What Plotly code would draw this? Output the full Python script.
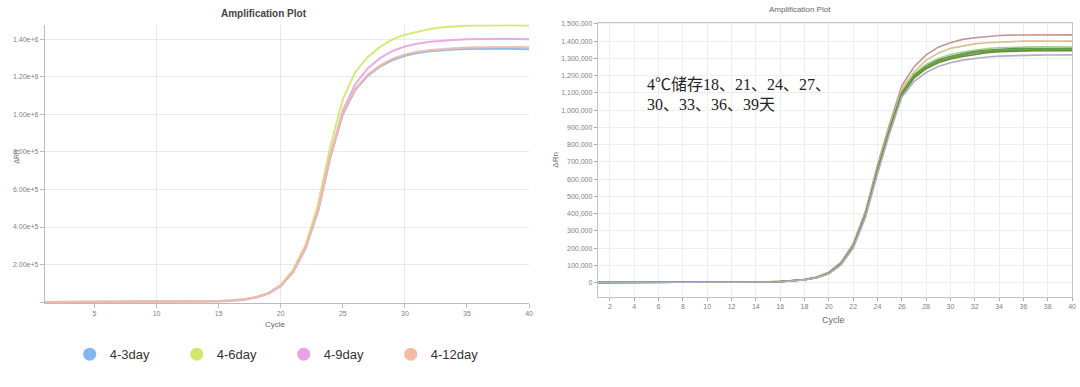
import plotly.graph_objects as go

# ---------------- data ----------------
cycles = list(range(1, 41))

# left panel (ΔRn, 4 storage conditions)
left_names = ["4-3day", "4-6day", "4-9day", "4-12day"]
d4_3 = [0, 0, 0, 0, 0, 0, 0, 0, 0, 0, 500, 1000, 1500, 2500, 4000, 7000, 13000, 24000, 45000, 85000,
        160000, 285000, 480000, 770000, 1000000, 1130000, 1205000, 1255000, 1290000, 1313000,
        1327000, 1336000, 1342000, 1346000, 1349000, 1350000, 1350000, 1350000, 1349000, 1347000]
d4_6 = [0, 0, 0, 0, 0, 0, 0, 0, 0, 0, 500, 1000, 1500, 2500, 4500, 8000, 14000, 26000, 48000, 92000,
        172000, 305000, 520000, 830000, 1080000, 1225000, 1305000, 1360000, 1400000, 1425000,
        1442000, 1455000, 1464000, 1469000, 1472000, 1474000, 1475000, 1475000, 1475000, 1474000]
d4_9 = [0, 0, 0, 0, 0, 0, 0, 0, 0, 0, 500, 1000, 1500, 2500, 4000, 7500, 13500, 25000, 46000, 88000,
        165000, 292000, 490000, 785000, 1020000, 1160000, 1245000, 1300000, 1338000, 1362000,
        1377000, 1387000, 1393000, 1397000, 1400000, 1402000, 1403000, 1403000, 1402000, 1401000]
d4_12 = [0, 0, 0, 0, 0, 0, 0, 0, 0, 0, 800, 1500, 2500, 3500, 5500, 9000, 15000, 27000, 48000, 88000,
         165000, 292000, 490000, 775000, 1005000, 1135000, 1212000, 1262000, 1297000, 1320000,
         1334000, 1343000, 1349000, 1353000, 1356000, 1358000, 1359000, 1359000, 1359000, 1358000]
left_series = [d4_3, d4_6, d4_9, d4_12]
left_colors = ["#84b6ee", "#cfe86c", "#e9a2e2", "#f5b9a4"]

left_yticks = [0, 200000, 400000, 600000, 800000, 1000000, 1200000, 1400000]
left_yticktext = ["", "2.00e+5", "4.00e+5", "6.00e+5", "8.00e+5", "1.00e+6", "1.20e+6", "1.40e+6"]
left_xticks = [5, 10, 15, 20, 25, 30, 35, 40]
left_xgrid = [10, 20, 30, 40]

# right panel (ΔRn, 8 storage durations 18–39 days)
right_names = ["18天", "21天", "24天", "27天", "30天", "33天", "36天", "39天"]
r18 = [0, 0, 500, 0, 500, 1000, 500, 1000, 1500, 1500, 2000, 2500, 3000, 3500, 4500, 6500, 10500, 18000, 32000, 60000,
       118000, 225000, 410000, 680000, 920000, 1140000, 1250000, 1320000, 1365000, 1390000,
       1410000, 1420000, 1428000, 1433000, 1435000, 1436000, 1437000, 1437000, 1436000, 1436000]
r21 = [0, 0, 0, 500, 500, 500, 1000, 1000, 1500, 1500, 2000, 2500, 3000, 3500, 4500, 6000, 10000, 17000, 31000, 57000,
       113000, 215000, 395000, 660000, 900000, 1120000, 1220000, 1290000, 1330000, 1358000,
       1373000, 1384000, 1391000, 1395000, 1398000, 1400000, 1400000, 1401000, 1400000, 1400000]
r24 = [0, 0, 0, 0, 500, 500, 500, 1000, 1000, 1500, 2000, 2500, 3000, 3500, 4000, 6000, 10000, 17000, 30000, 55000,
       110000, 212000, 392000, 652000, 892000, 1105000, 1208000, 1265000, 1300000, 1322000,
       1337000, 1349000, 1357000, 1362000, 1365000, 1366000, 1367000, 1367000, 1367000, 1366000]
r27 = [0, 0, 0, 0, 0, 500, 500, 500, 1000, 1000, 1500, 2000, 2500, 3000, 3500, 5500, 9500, 16500, 29500, 54000,
       108000, 208000, 388000, 648000, 888000, 1100000, 1200000, 1255000, 1290000, 1311000,
       1326000, 1339000, 1347000, 1353000, 1356000, 1357000, 1358000, 1358000, 1358000, 1357000]
r30 = [0, 0, 0, 0, 0, 0, 500, 500, 500, 1000, 1500, 2000, 2500, 3000, 3500, 5500, 9500, 16500, 29500, 54000,
       108000, 208000, 386000, 645000, 885000, 1097000, 1197000, 1252000, 1287000, 1308000,
       1323000, 1336000, 1344000, 1350000, 1353000, 1354000, 1355000, 1355000, 1355000, 1354000]
r33 = [0, 0, 0, 0, 0, 0, 0, 500, 500, 1000, 1500, 2000, 2500, 3000, 3500, 5500, 9000, 16000, 29000, 53000,
       106000, 205000, 384000, 642000, 882000, 1093000, 1192000, 1247000, 1282000, 1303000,
       1318000, 1331000, 1339000, 1345000, 1348000, 1349000, 1350000, 1350000, 1350000, 1349000]
r36 = [0, 0, 0, 0, 0, 0, 0, 0, 500, 1000, 1500, 2000, 2500, 3000, 3500, 5000, 9000, 16000, 28500, 52000,
       105000, 203000, 380000, 638000, 878000, 1088000, 1185000, 1240000, 1275000, 1296000,
       1311000, 1324000, 1333000, 1339000, 1342000, 1344000, 1345000, 1345000, 1345000, 1344000]
r39 = [0, 0, 0, 0, 0, 0, 0, 0, 500, 1000, 1500, 2000, 2500, 3000, 3500, 5000, 9000, 15500, 28000, 51000,
       103000, 200000, 376000, 630000, 865000, 1075000, 1165000, 1218000, 1253000, 1275000,
       1290000, 1300000, 1308000, 1313000, 1316000, 1318000, 1319000, 1320000, 1320000, 1320000]
right_series = [r18, r21, r24, r27, r30, r33, r36, r39]
right_colors = ["#c99393", "#d9c08f", "#a9d08e", "#3f8f3f", "#5aa85a", "#7d9b55", "#6a8f2a", "#aeb0c9"]

right_yticks = list(range(0, 1500001, 100000))
right_xticks = list(range(2, 41, 2))

note_line1 = "4℃储存18、21、24、27、"
note_line2 = "30、33、36、39天"

# ---------------- figure ----------------
W, H = 1080, 387
fig = go.Figure()

for name, ys, col in zip(left_names, left_series, left_colors):
    fig.add_trace(go.Scatter(x=cycles, y=ys, mode="lines", name=name, showlegend=False,
                             line=dict(color=col, width=2), opacity=0.9,
                             xaxis="x", yaxis="y"))
# legend entries (circle markers)
for name, col in zip(left_names, left_colors):
    fig.add_trace(go.Scatter(x=[None], y=[None], mode="markers", name=name,
                             marker=dict(color=col, size=13, symbol="circle"),
                             xaxis="x", yaxis="y"))

for name, ys, col in zip(right_names, right_series, right_colors):
    fig.add_trace(go.Scatter(x=cycles, y=ys, mode="lines", name=name, showlegend=False,
                             line=dict(color=col, width=1.6),
                             xaxis="x2", yaxis="y2"))


def px(x):
    return x / W


def py(y):
    return 1 - y / H


tickfont = dict(family="Liberation Sans, Arial", size=7, color="#808080")

fig.update_layout(
    width=W, height=H,
    margin=dict(l=0, r=0, t=0, b=0),
    paper_bgcolor="white", plot_bgcolor="white",
    showlegend=True,
    legend=dict(orientation="h", x=px(70), y=py(354), xanchor="left", yanchor="middle",
                font=dict(family="Liberation Sans, Arial", size=13, color="#333333"),
                entrywidth=62, entrywidthmode="pixels", itemwidth=30,
                bgcolor="rgba(0,0,0,0)"),
    xaxis=dict(domain=[px(45), px(531)], range=[1, 40], anchor="y",
               tickvals=left_xticks, ticks="outside", ticklen=4, tickcolor="#bbbbbb",
               showgrid=False, zeroline=False, showline=True, linecolor="#bbbbbb",
               tickfont=tickfont),
    yaxis=dict(domain=[py(302), py(21.7)], range=[-3000, 1479000], anchor="x",
               tickvals=left_yticks, ticktext=left_yticktext, ticks="outside", ticklen=4,
               tickcolor="#bbbbbb", showgrid=True, gridcolor="#e8e8e8", zeroline=False,
               showline=True, linecolor="#bbbbbb", tickfont=tickfont),
    xaxis3=dict(overlaying="x", range=[1, 40], anchor="y", tickvals=left_xgrid,
                showticklabels=False, ticks="", showgrid=True, gridcolor="#e8e8e8",
                zeroline=False, showline=False),
    xaxis2=dict(domain=[px(600), px(1076)], range=[1, 40], anchor="y2",
                tickvals=right_xticks, ticks="outside", ticklen=3, tickcolor="#aaaaaa",
                showgrid=True, gridcolor="#eeeeee", zeroline=False,
                showline=True, mirror=True, linecolor="#c4c4c4", tickfont=tickfont),
    yaxis2=dict(domain=[py(296), py(20)], range=[-82000, 1506000], anchor="x2",
                tickvals=right_yticks, tickformat=",d", ticks="outside", ticklen=3,
                tickcolor="#aaaaaa", showgrid=True, gridcolor="#eeeeee", zeroline=False,
                showline=True, mirror=True, linecolor="#c4c4c4", tickfont=tickfont),
)

# dummy trace so xaxis3 is drawn
fig.add_trace(go.Scatter(x=[None], y=[None], xaxis="x3", yaxis="y", showlegend=False,
                         hoverinfo="skip"))

ann = [
    dict(text="<b>Amplification Plot</b>", x=px(265), y=py(11), font=dict(size=10, color="#444444")),
    dict(text="Cycle", x=px(277), y=py(324), font=dict(size=8, color="#666666")),
    dict(text="ΔRn", x=px(17), y=py(155), textangle=-90, font=dict(size=7, color="#666666")),
    dict(text="Amplification Plot", x=px(803), y=py(7), font=dict(size=8, color="#666666")),
    dict(text="Cycle", x=px(837), y=py(319), font=dict(size=9, color="#666666")),
    dict(text="ΔRn", x=px(558), y=py(158), textangle=-90, font=dict(size=8, color="#666666")),
]
for a in ann:
    a.update(xref="paper", yref="paper", showarrow=False, xanchor="center", yanchor="middle")
    a["font"]["family"] = "Liberation Sans, Arial"
    fig.add_annotation(**a)

for txt, yy in [(note_line1, 82), (note_line2, 102)]:
    fig.add_annotation(text=txt, x=px(647), y=py(yy), xref="paper", yref="paper",
                       showarrow=False, xanchor="left", yanchor="middle",
                       font=dict(family="Liberation Serif, Noto Sans CJK SC", size=16, color="#222222"))

fig.write_html("out.html")
